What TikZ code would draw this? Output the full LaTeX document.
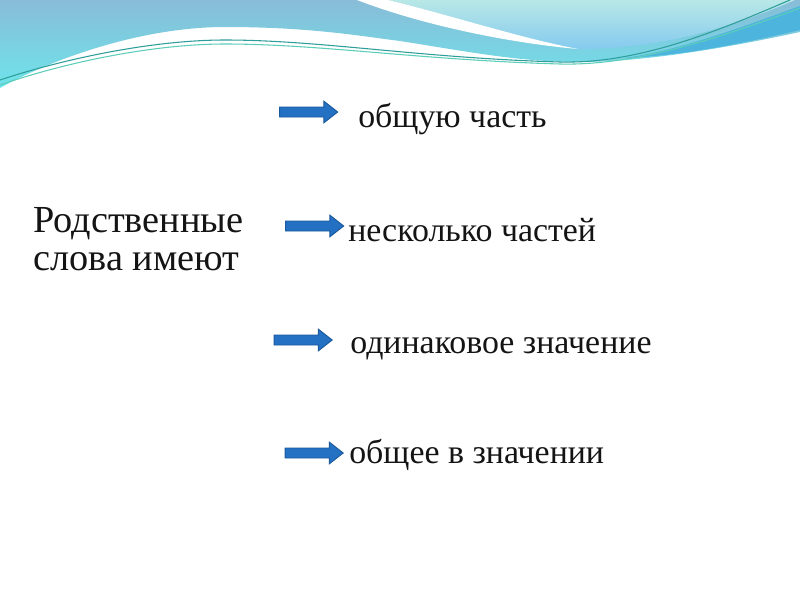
\documentclass[tikz,border=0pt]{standalone}
\usepackage{fontspec}
\setmainfont{Liberation Serif}
\usetikzlibrary{shapes.arrows}
\definecolor{cAtop}{HTML}{88BCD7}
\definecolor{cAbot}{HTML}{6EE4EB}
\definecolor{cBtop}{HTML}{B8E8E6}
\definecolor{cBbot}{HTML}{86CAEF}
\definecolor{cDark}{HTML}{4DB4DE}
\definecolor{cLine1}{HTML}{2E9E9A}
\definecolor{cLine2}{HTML}{5CCDB8}
\definecolor{arrfill}{HTML}{2471C3}
\definecolor{arrdraw}{HTML}{1A5A9C}
\definecolor{txt}{HTML}{141414}
\tikzset{
  blockarrow/.style={single arrow, draw=arrdraw, fill=arrfill, line width=0.7pt,
    minimum height=58*0.75pt, text height=0pt, text depth=0pt, text width=0pt,
    inner xsep=0pt, inner ysep=3.4pt,
    single arrow head extend=4.4pt, single arrow tip angle=76},
  bigtext/.style={anchor=base west, inner sep=0pt, text=txt, font=\fontsize{28.7}{34}\selectfont},
  smalltext/.style={anchor=base west, inner sep=0pt, text=txt, font=\fontsize{25.4}{30}\selectfont}
}
\begin{document}
\begin{tikzpicture}[x=0.75pt,y=-0.75pt]
\useasboundingbox (0,0) rectangle (800,600);
\fill[white] (0,0) rectangle (800,600);
% header: main band
\shade[top color=cAtop, bottom color=cAbot] (0,0) -- (800,0) -- (800,32)
  .. controls (740,45) and (650,62) .. (580,62)
  .. controls (520,62) and (470,52) .. (400,41)
  .. controls (360,36) and (310,27) .. (225,27)
  .. controls (140,27) and (50,60) .. (0,88) -- cycle;
% upper right light shape
\shade[top color=cBtop, bottom color=cBbot] (388,0) -- (795,0)
  .. controls (730,28) and (660,49) .. (578,49)
  .. controls (520,38) and (450,15) .. (388,0) -- cycle;
% white stripe
\fill[white] (357,0) -- (388,0)
  .. controls (450,15) and (520,38) .. (578,49)
  .. controls (520,44) and (430,28) .. (357,0) -- cycle;
% dark band
\fill[cDark] (625,58) .. controls (680,50) and (740,28) .. (800,6) -- (800,30)
  .. controls (740,44) and (680,56) .. (625,58) -- cycle;
% lines
\draw[cLine1, line width=0.8pt] (0,80) .. controls (60,60) and (150,40) .. (225,40)
  .. controls (320,40) and (420,58) .. (560,62)
  .. controls (640,64) and (720,30) .. (790,0);
\draw[cLine2, line width=0.8pt] (0,85) .. controls (60,64) and (150,44) .. (225,44)
  .. controls (320,44) and (420,60) .. (560,64)
  .. controls (640,66) and (730,34) .. (800,8);
% arrows
\node[blockarrow] (a1) at (305.5,112) {};
\node[blockarrow] (a2) at (311.5,226) {};
\node[blockarrow] (a3) at (300,340) {};
\node[blockarrow] (a4) at (311,453) {};
% texts
\node[bigtext] (l1) at (33,232) {Родственные};
\node[bigtext] (l2) at (33,270) {слова имеют};
\node[smalltext] (t1) at (358,127) {общую часть};
\node[smalltext] (t2) at (348,241) {несколько частей};
\node[smalltext] (t3) at (350,353) {одинаковое значение};
\node[smalltext] (t4) at (349,463) {общее в значении};
\end{tikzpicture}
\end{document}
